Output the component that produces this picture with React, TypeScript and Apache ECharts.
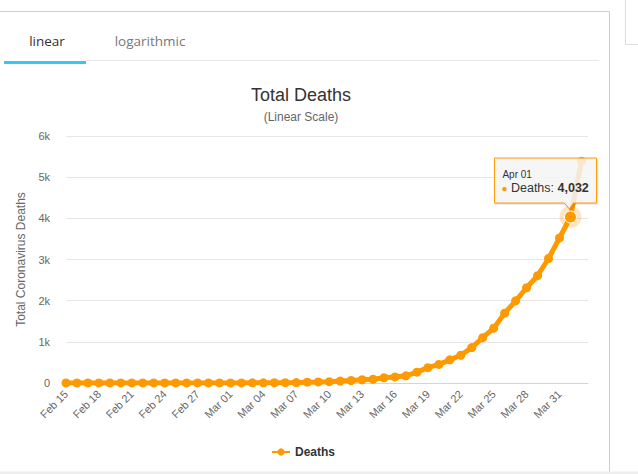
import React, { useEffect, useRef } from "react";
import * as echarts from "echarts";

const dates = [
  "Feb 15", "Feb 16", "Feb 17", "Feb 18", "Feb 19", "Feb 20", "Feb 21", "Feb 22", "Feb 23", "Feb 24",
  "Feb 25", "Feb 26", "Feb 27", "Feb 28", "Feb 29", "Mar 01", "Mar 02", "Mar 03", "Mar 04", "Mar 05",
  "Mar 06", "Mar 07", "Mar 08", "Mar 09", "Mar 10", "Mar 11", "Mar 12", "Mar 13", "Mar 14", "Mar 15",
  "Mar 16", "Mar 17", "Mar 18", "Mar 19", "Mar 20", "Mar 21", "Mar 22", "Mar 23", "Mar 24", "Mar 25",
  "Mar 26", "Mar 27", "Mar 28", "Mar 29", "Mar 30", "Mar 31", "Apr 01", "Apr 02",
];

const deaths = [
  1, 1, 1, 1, 1, 1, 1, 1, 1, 1,
  1, 2, 2, 2, 2, 2, 3, 4, 4, 6,
  9, 11, 19, 25, 33, 48, 61, 79, 91, 127,
  148, 175, 264, 372, 450, 562, 674, 860, 1100, 1331,
  1696, 1995, 2314, 2606, 3024, 3523, 4032, 5387,
];

const yTickLabels = ["0", "1k", "2k", "3k", "4k", "5k", "6k"];

const highlightIndex = 46;
const seriesName = "Deaths";
const tabs = ["linear", "logarithmic"];

const ORANGE = "#ff9900";
const FONT = "'Liberation Sans', Arial, Helvetica, sans-serif";

export default function App() {
  const ref = useRef<HTMLDivElement>(null);

  useEffect(() => {
    document.body.style.margin = "0";
    const chart = echarts.init(ref.current!, undefined, { renderer: "svg" });

    const staticGraphics: any[] = [
      { id: "frameTop", type: "line", shape: { x1: 0, y1: 11.5, x2: 609.5, y2: 11.5 }, style: { stroke: "#cccccc", lineWidth: 1 }, silent: true },
      { id: "frameRight", type: "line", shape: { x1: 609.5, y1: 11.5, x2: 609.5, y2: 472 }, style: { stroke: "#cccccc", lineWidth: 1 }, silent: true },
      { id: "sideBoxL", type: "line", shape: { x1: 625.5, y1: 0, x2: 625.5, y2: 44.5 }, style: { stroke: "#dddddd", lineWidth: 1 }, silent: true },
      { id: "sideBoxB", type: "line", shape: { x1: 625.5, y1: 44.5, x2: 638, y2: 44.5 }, style: { stroke: "#dddddd", lineWidth: 1 }, silent: true },
      { id: "bottomBand", type: "rect", shape: { x: 0, y: 471.5, width: 638, height: 3 }, style: { fill: "#eeeeee" }, silent: true },
      { id: "tabLine", type: "line", shape: { x1: 86, y1: 60.5, x2: 599, y2: 60.5 }, style: { stroke: "#e8e8e8", lineWidth: 1 }, silent: true },
      { id: "tabActive", type: "rect", shape: { x: 4, y: 61, width: 82, height: 3 }, style: { fill: "#36c8f5" }, silent: true },
      { id: "tab0", type: "text", x: 47, y: 41, style: { text: tabs[0], fill: "#333333", font: "13.5px 'Open Sans', sans-serif", textAlign: "center", textVerticalAlign: "middle" }, silent: true },
      { id: "tab1", type: "text", x: 150, y: 41, style: { text: tabs[1], fill: "#777777", font: "13.5px 'Open Sans', sans-serif", textAlign: "center", textVerticalAlign: "middle" }, silent: true },
      { id: "title", type: "text", x: 301, y: 95, style: { text: "Total Deaths", fill: "#333333", font: `18px ${FONT}`, textAlign: "center", textVerticalAlign: "middle" }, silent: true },
      { id: "subtitle", type: "text", x: 301, y: 117, style: { text: "(Linear Scale)", fill: "#666666", font: `12px ${FONT}`, textAlign: "center", textVerticalAlign: "middle" }, silent: true },
    ];

    chart.setOption({
      animation: false,
      grid: { left: 66, right: 50, top: 136, bottom: 91 },
      legend: {
        data: [seriesName],
        left: 266,
        top: 441,
        itemWidth: 18,
        itemHeight: 9,
        itemGap: 6,
        textStyle: { fontFamily: FONT, fontSize: 12, fontWeight: "bold", color: "#333333" },
      },
      xAxis: {
        type: "value",
        min: 0,
        max: 47.6,
        interval: 3,
        axisLine: { show: true, lineStyle: { color: "#ccd6eb", width: 1 } },
        axisTick: { show: false },
        splitLine: { show: false },
        axisLabel: {
          rotate: 45,
          margin: 9,
          fontFamily: FONT,
          fontSize: 11,
          color: "#666666",
          showMaxLabel: false,
          formatter: (v: number) => (Number.isInteger(v) && dates[v] ? dates[v] : ""),
        },
      },
      yAxis: {
        type: "value",
        min: 0,
        max: 6000,
        interval: 1000,
        name: "Total Coronavirus Deaths",
        nameLocation: "middle",
        nameGap: 36,
        nameRotate: 90,
        nameTextStyle: { fontFamily: FONT, fontSize: 12, color: "#666666" },
        axisLine: { show: false },
        axisTick: { show: false },
        splitLine: { lineStyle: { color: "#e6e6e6", width: 1 } },
        axisLabel: {
          margin: 16,
          fontFamily: FONT,
          fontSize: 11,
          color: "#666666",
          formatter: (v: number) => yTickLabels[Math.round(v / 1000)] ?? "",
        },
      },
      series: [
        {
          name: seriesName,
          type: "line",
          data: deaths.map((d, i) => [i, d]),
          showSymbol: true,
          symbol: "circle",
          symbolSize: 9,
          itemStyle: { color: ORANGE },
          lineStyle: { color: ORANGE, width: 5 },
          emphasis: { disabled: true },
          markPoint: {
            silent: true,
            label: { show: false },
            data: [
              { coord: [highlightIndex, deaths[highlightIndex]], symbol: "circle", symbolSize: 22, itemStyle: { color: "rgba(255,153,0,0.25)" } },
              { coord: [highlightIndex, deaths[highlightIndex]], symbol: "circle", symbolSize: 12, itemStyle: { color: ORANGE, borderColor: "#ffffff", borderWidth: 1 } },
            ],
          },
        },
      ],
      graphic: staticGraphics,
    });

    const p = chart.convertToPixel({ gridIndex: 0 }, [highlightIndex, deaths[highlightIndex]]) as number[];
    const px = p[0];
    const py = p[1];
    const L = px - 76;
    const R = px + 26;
    const T = py - 59;
    const B = py - 14;
    const tipX = px - 1;
    const tipY = py - 8;

    chart.setOption({
      graphic: [
        ...staticGraphics,
        {
          id: "tipShadow",
          type: "polygon",
          shape: { points: [[L + 1, T + 1], [R + 1, T + 1], [R + 1, B + 1], [tipX + 5, B + 1], [tipX + 1, tipY + 1], [tipX - 5, B + 1], [L + 1, B + 1]] },
          style: { fill: "rgba(0,0,0,0.06)", stroke: "rgba(0,0,0,0.08)", lineWidth: 2 },
          silent: true,
          z: 100,
        },
        {
          id: "tipBox",
          type: "polygon",
          shape: { points: [[L, T], [R, T], [R, B], [tipX + 4, B], [tipX, tipY], [tipX - 5, B], [L, B]] },
          style: { fill: "rgba(247,247,247,0.85)", stroke: ORANGE, lineWidth: 1 },
          silent: true,
          z: 101,
        },
        {
          id: "tipHead",
          type: "text",
          x: L + 8,
          y: T + 16,
          style: { text: dates[highlightIndex], fill: "#333333", font: `10px ${FONT}`, textVerticalAlign: "middle" },
          silent: true,
          z: 102,
        },
        {
          id: "tipBody",
          type: "text",
          x: L + 7,
          y: T + 30,
          style: {
            text: `{dot|●} ${seriesName}: {b|${deaths[highlightIndex].toLocaleString("en-US")}}`,
            fill: "#333333",
            font: `12.5px ${FONT}`,
            textVerticalAlign: "middle",
            rich: {
              dot: { fill: ORANGE, fontSize: 10, fontFamily: FONT },
              b: { fontWeight: "bold", fontSize: 12.5, fill: "#333333", fontFamily: FONT },
            },
          },
          silent: true,
          z: 102,
        },
      ],
    });

    return () => chart.dispose();
  }, []);

  return <div ref={ref} style={{ width: 638, height: 474 }} />;
}
